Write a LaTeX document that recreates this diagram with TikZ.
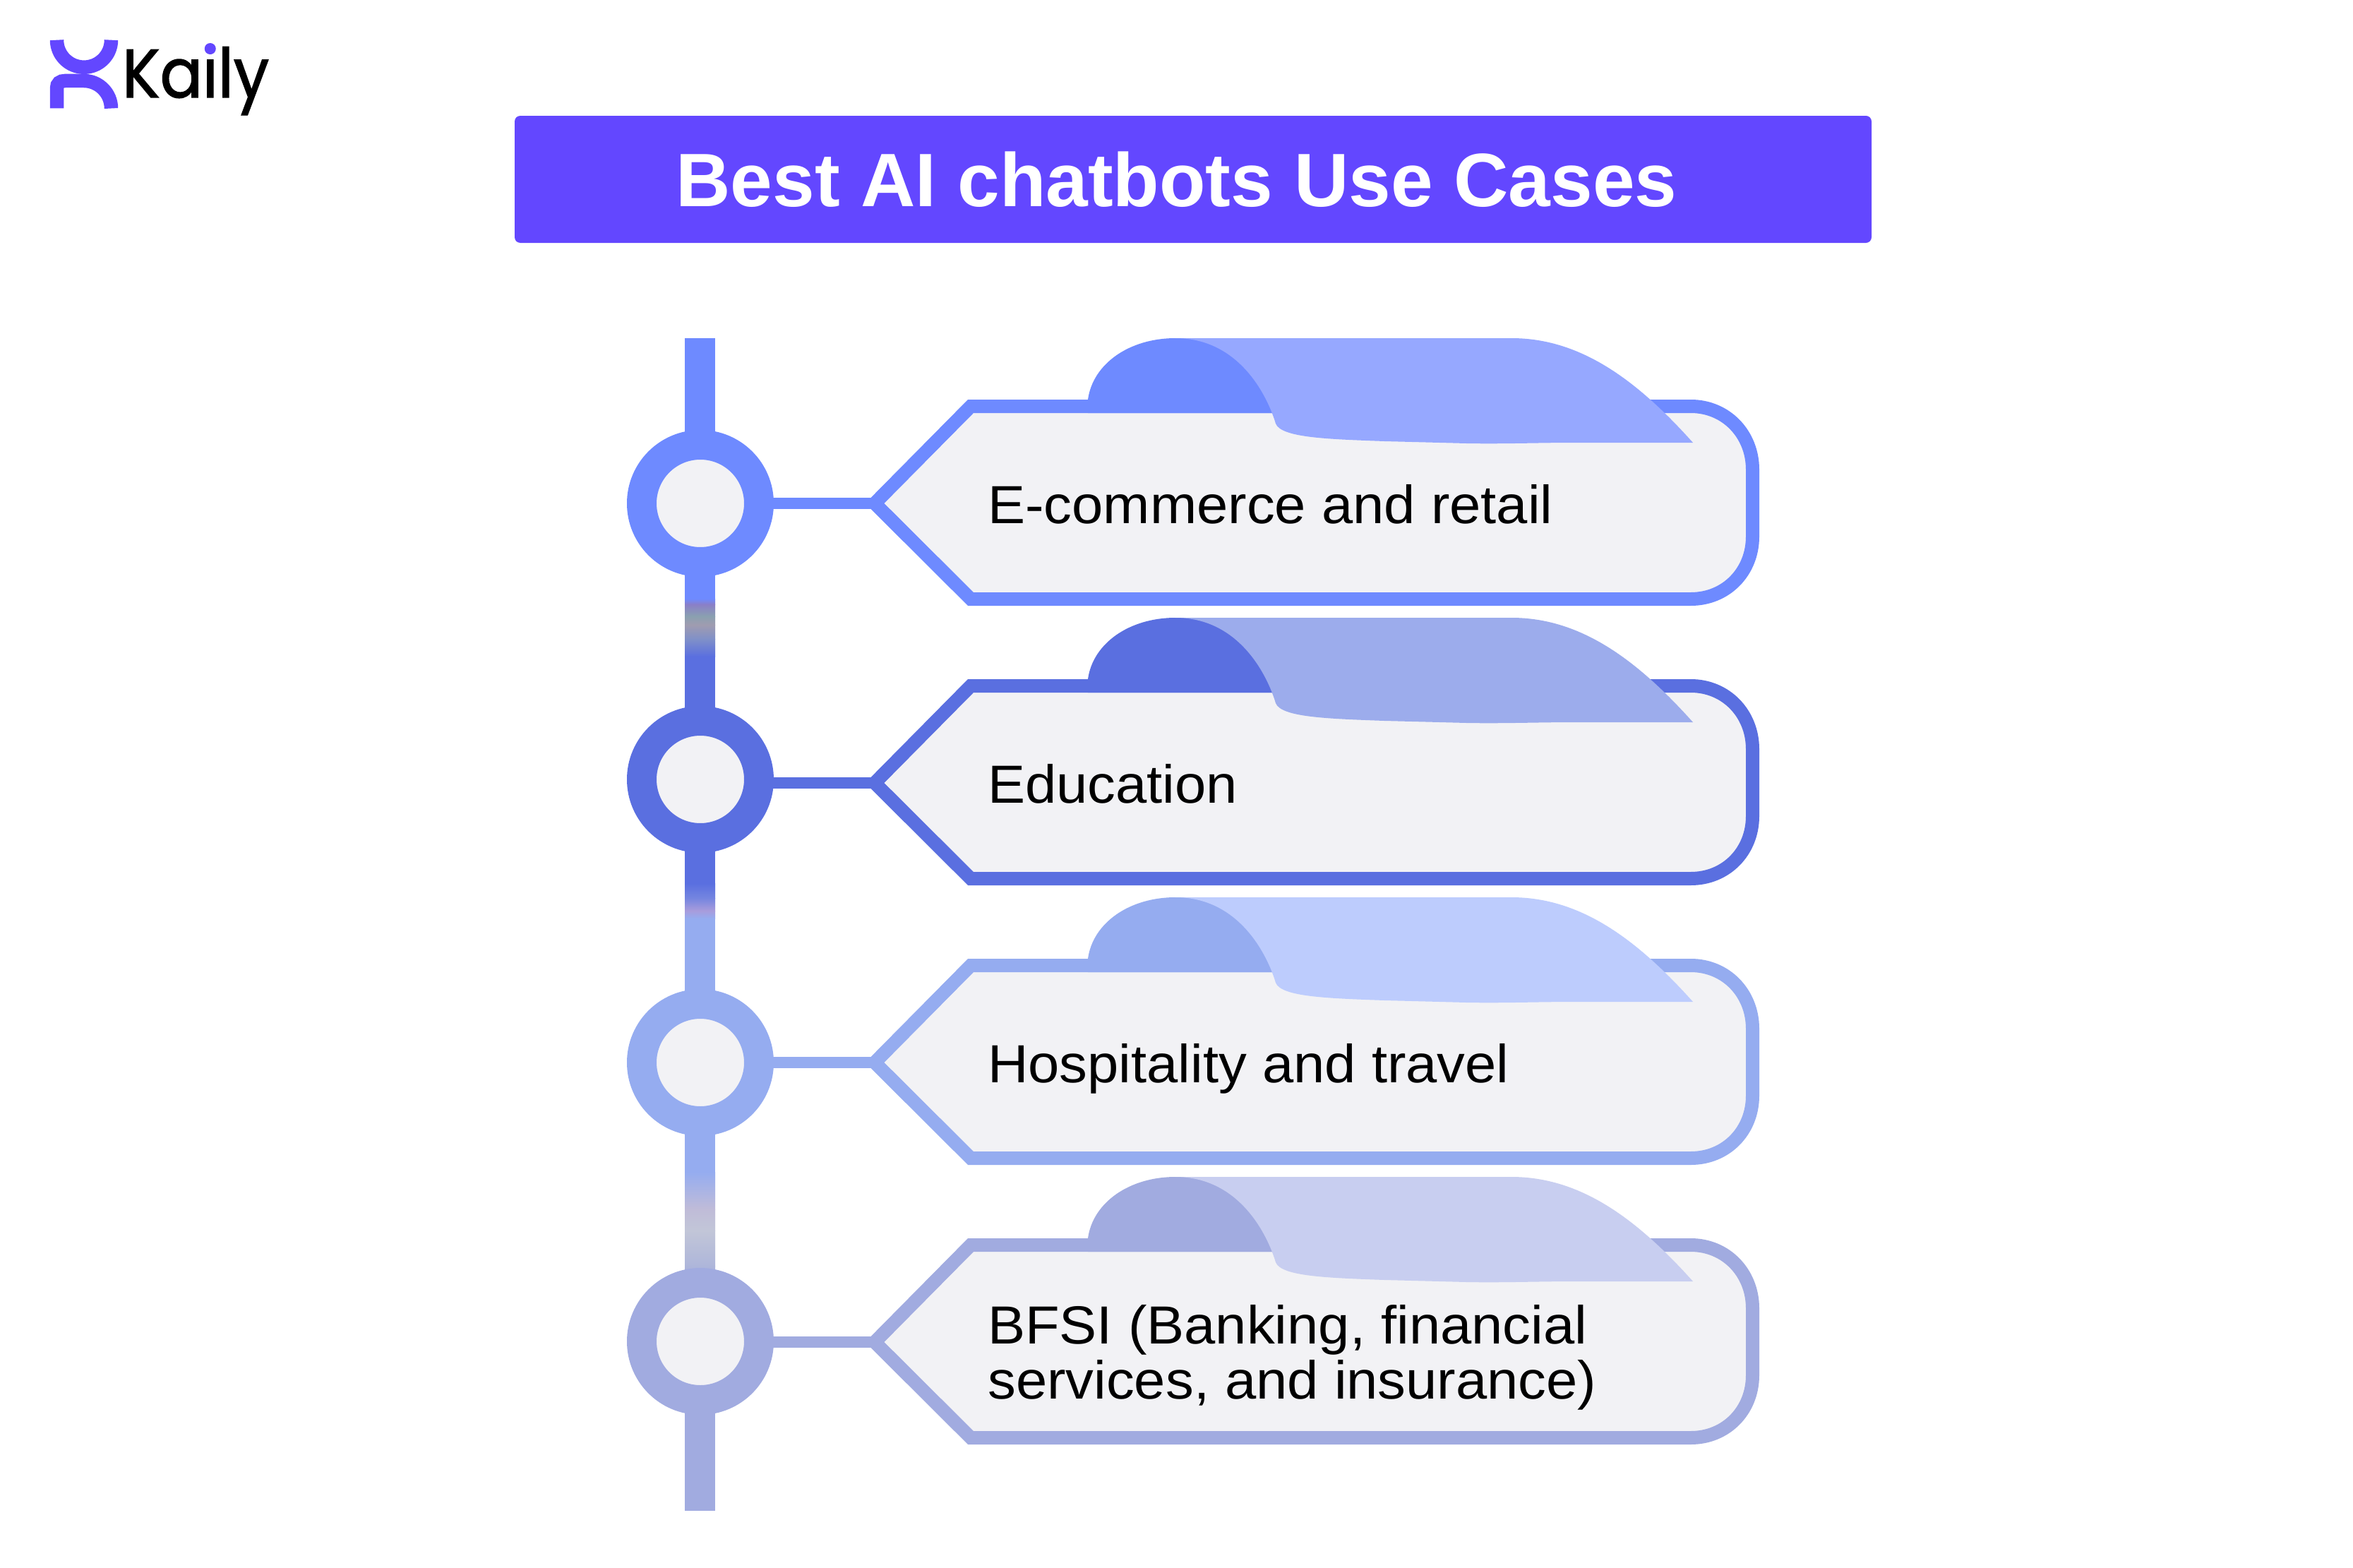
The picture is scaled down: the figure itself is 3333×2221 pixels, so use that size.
\documentclass[tikz,border=0pt]{standalone}
\usepackage{fontspec}
\setmainfont[FakeStretch=1.047]{Liberation Sans}
\newfontfamily\titlefont[BoldFont=*]{Liberation Sans Bold}
\newfontfamily\logofont[FakeStretch=0.92,FakeBold=1.4]{Poppins}
\definecolor{cA}{HTML}{6E8AFF}\definecolor{lA}{HTML}{96A8FF}
\definecolor{cB}{HTML}{5A6FE0}\definecolor{lB}{HTML}{9CACEC}
\definecolor{cC}{HTML}{95ACF0}\definecolor{lC}{HTML}{BDCCFD}
\definecolor{cD}{HTML}{A1ABE0}\definecolor{lD}{HTML}{C8CEF0}
\definecolor{panel}{HTML}{F2F2F5}\definecolor{brand}{HTML}{6347FF}
\definecolor{mA}{HTML}{8A7FC8}\definecolor{mB}{HTML}{8AA0B0}
\definecolor{mC}{HTML}{A09CB0}\definecolor{mD}{HTML}{8090C8}
\definecolor{mE}{HTML}{7485E0}\definecolor{mF}{HTML}{A89CDC}
\definecolor{mG}{HTML}{C0BCD8}\definecolor{mH}{HTML}{C2C6D8}\definecolor{mI}{HTML}{AEB6DA}
\tikzset{
 x=1pt,y=-1pt,
 labeltext/.style={anchor=base west,align=left,font=\fontsize{76}{78}\selectfont,text=black,inner sep=0pt},
 logotext/.style={anchor=base west,inner sep=0pt,font=\logofont\fontsize{97}{97}\selectfont,text=black},
}
\newlength\kaW \newlength\iW
\AtBeginDocument{%
 \settowidth\kaW{\logofont\fontsize{97}{97}\selectfont Ka}%
 \settowidth\iW{\logofont\fontsize{97}{97}\selectfont i}%
}
\newcommand{\fadebar}[4]{\shade[top color=#2,bottom color=#4] (970,#1) rectangle (1013,#3);}
\newcommand{\rowitem}[7]{% y-offset, main colour, light colour, name, circle y, baseline y, text
 \begin{scope}[yshift=-#1pt]
  \coordinate (tip#4) at (1239,713);
  \node[coordinate] (hub#4) at (992,#5) {};
  \draw[#2,line width=16pt] (hub#4 |- tip#4) -- (tip#4);
  \draw[#2,line width=19pt,fill=panel,miter limit=4] (tip#4) -- (1375,575.5) -- (2395,575.5)
    .. controls (2445,575.5) and (2482.5,615) .. (2482.5,665) -- (2482.5,760)
    .. controls (2482.5,810) and (2445,848.5) .. (2395,848.5) -- (1375,848.5) -- cycle;
  \fill[#2] (1541,566) .. controls (1548,515) and (1600,479) .. (1665,479) -- (1800,479) -- (1810,585) -- (1541,585) -- cycle;
  \fill[#3] (1665,479) -- (2141,479) .. controls (2240,479) and (2320,540) .. (2398,627)
    -- (2230,627) .. controls (2180,627) and (2130,629) .. (2077,628) .. controls (2040,627) and (2000,626) .. (1961,625)
    .. controls (1880,622) and (1815,620) .. (1807,600) .. controls (1795,560) and (1755,479) .. (1665,479) -- cycle;
  \node[circle,draw=#2,line width=42pt,fill=panel,minimum size=166pt,inner sep=0pt] (ring#4) at (992,#5) {};
  \node[labeltext] (lab#4) at (1399,#6) {#7};
 \end{scope}
}
\begin{document}
\begin{tikzpicture}
\useasboundingbox (0,0) rectangle (3333,2221);
\fill[white] (0,0) rectangle (3333,2221);
% logo
\draw[brand,line width=19.5pt] (80.5,56.7) .. controls (80.5,78) and (97.7,95.2) .. (119,95.2) .. controls (140.3,95.2) and (157.5,78) .. (157.5,56.7);
\draw[brand,line width=19.5pt] (80.5,153.5) -- (80.5,125) .. controls (80.5,118) and (85,114.5) .. (92,114.5) -- (119,114.5) .. controls (140,114.5) and (157.5,132) .. (157.5,153.5);
\node[logotext] (logo) at (173,138) {Kaily};
\pgfmathsetmacro\dotx{173+\kaW+0.5*\iW}
\fill[brand] (\dotx,69) circle[radius=8];
% title
\node[fill=brand,rounded corners=8pt,minimum width=1922pt,minimum height=180pt,inner sep=0pt] (titlebar) at (1690,254) {};
\node[text=white,inner sep=0pt,font=\titlefont\fontsize{107.2}{110}\selectfont] (title) at (1666.5,254) {Best AI chatbots Use Cases};
% spine
\fill[cA] (970,479) rectangle (1013,848);
\fadebar{848}{cA}{856}{mA}\fadebar{856}{mA}{873}{mB}\fadebar{873}{mB}{885}{mC}\fadebar{885}{mC}{905}{mD}\fadebar{905}{mD}{930}{cB}
\fill[cB] (970,930) rectangle (1013,1251);
\fadebar{1251}{cB}{1272}{mE}\fadebar{1272}{mE}{1290}{mF}\fadebar{1290}{mF}{1301}{cC}
\fill[cC] (970,1301) rectangle (1013,1660);
\fadebar{1660}{cC}{1713}{mG}\fadebar{1713}{mG}{1743}{mH}\fadebar{1743}{mH}{1793}{mI}\fadebar{1793}{mI}{1810}{cD}
\fill[cD] (970,1810) rectangle (1013,2140);
\rowitem{0}{cA}{lA}{a}{713}{741}{E-commerce and retail}
\rowitem{396}{cB}{lB}{b}{708}{741}{Education}
\rowitem{792}{cC}{lC}{c}{713}{741}{Hospitality and travel}
\rowitem{1188}{cD}{lD}{d}{712}{715}{\parbox[t]{1100pt}{\baselineskip=78pt BFSI (Banking, financial\\services, and insurance)}}
\end{tikzpicture}
\end{document}
